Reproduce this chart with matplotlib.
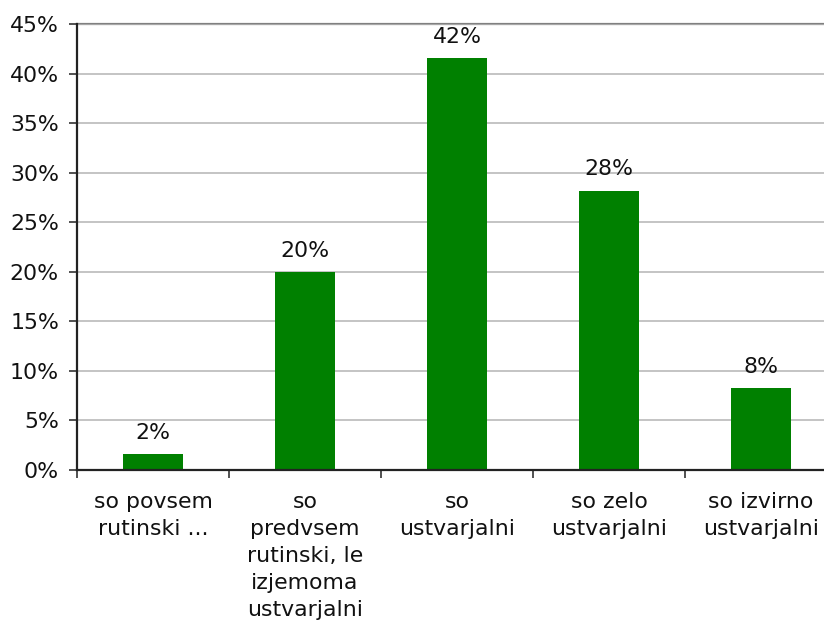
import matplotlib
matplotlib.use("Agg")
import matplotlib.pyplot as plt
from matplotlib.ticker import FuncFormatter, FixedLocator

# data
categories = [
    "so povsem\nrutinski ...",
    "so\npredvsem\nrutinski, le\nizjemoma\nustvarjalni",
    "so\nustvarjalni",
    "so zelo\nustvarjalni",
    "so izvirno\nustvarjalni",
]
shares = [1.6, 20.0, 41.6, 28.2, 8.3]
value_labels = ["2%", "20%", "42%", "28%", "8%"]

FS = 15.8
plt.rcParams['font.family'] = ['DejaVu Sans']
plt.rcParams['font.size'] = FS

W, H = 824, 623
fig = plt.figure(figsize=(W / 100, H / 100), dpi=100)
# axes: left 77px, bottom 470px, top 24px, right edge cropped off at 837px
ax = fig.add_axes([77 / W, (H - 470) / H, (837 - 77) / W, (470 - 24) / H])

x = list(range(len(categories)))
ax.bar(x, shares, width=0.4, color="#008000", zorder=3)
for xi, v, lab in zip(x, shares, value_labels):
    ax.annotate(lab, (xi, v), xytext=(0, 8), textcoords="offset points",
                ha="center", va="bottom", fontsize=FS, color="#111111")

ax.set_xlim(-0.5, len(categories) - 0.5)
ax.set_ylim(0, 45)
ax.set_yticks(range(0, 46, 5))
ax.yaxis.set_major_formatter(FuncFormatter(lambda v, p: f"{int(v)}%"))
ax.grid(axis="y", color="#b4b4b4", linewidth=1.1, zorder=0)
ax.axhline(45, color="#808080", linewidth=1.6, zorder=1, clip_on=False)

ax.set_xticks(x)
ax.set_xticklabels(categories, fontsize=FS, color="#111111", linespacing=1.43)
ax.xaxis.set_minor_locator(FixedLocator([i + 0.5 for i in range(-1, len(categories))]))
ax.tick_params(axis="x", which="major", length=0, pad=16)
ax.tick_params(axis="x", which="minor", length=6, width=1.2, color="#333333")
ax.tick_params(axis="y", length=6, width=1.2, color="#333333", labelcolor="#111111", pad=7)

for side in ("top", "right"):
    ax.spines[side].set_visible(False)
for side in ("left", "bottom"):
    ax.spines[side].set_color("#222222")
    ax.spines[side].set_linewidth(1.6)
    ax.spines[side].set_zorder(4)

fig.savefig("out.png", dpi=100)
